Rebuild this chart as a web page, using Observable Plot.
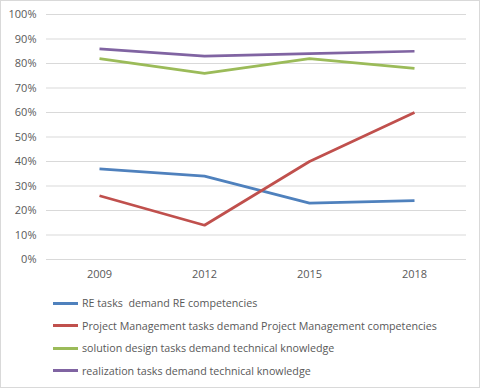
<!DOCTYPE html>
<html><head><meta charset="utf-8">
<script src="https://cdn.jsdelivr.net/npm/d3@7"></script>
<script src="https://cdn.jsdelivr.net/npm/@observablehq/plot@0.6"></script>
<style>
html,body{margin:0;padding:0;background:#fff;}
#wrap{position:relative;width:480px;height:388px;box-sizing:border-box;border:1px solid #d9d9d9;overflow:hidden;font-family:"Open Sans",sans-serif;}
#legend{position:absolute;left:52px;top:291px;}
.row{display:flex;align-items:center;height:22.5px;font-size:10.7px;color:#595959;letter-spacing:0px;}
.sw{width:25px;height:3px;margin-right:4px;}
</style></head>
<body><div id="wrap"><div id="chart"></div><div id="legend"></div></div>
<script>
const years = ["2009","2012","2015","2018"];
const seriesNames = [
  "RE tasks  demand RE competencies",
  "Project Management tasks demand Project Management competencies",
  "solution design tasks demand technical knowledge",
  "realization tasks demand technical knowledge"
];
const reValues = [0.37, 0.34, 0.23, 0.24];
const pmValues = [0.26, 0.14, 0.40, 0.60];
const sdValues = [0.82, 0.76, 0.82, 0.78];
const rzValues = [0.86, 0.83, 0.84, 0.85];
const colors = ["#4f81bd", "#c0504d", "#9bbb59", "#8064a2"];
const yTicks = [0,0.1,0.2,0.3,0.4,0.5,0.6,0.7,0.8,0.9,1.0];

const allValues = [reValues, pmValues, sdValues, rzValues];
const data = [];
seriesNames.forEach((s, i) => years.forEach((y, j) => data.push({series: s, year: y, value: allValues[i][j]})));

const plot = Plot.plot({
  width: 478, height: 289,
  marginTop: 13, marginBottom: 31, marginLeft: 45, marginRight: 13,
  style: {fontFamily: "'Open Sans', sans-serif", fontSize: "11px", color: "#595959", background: "#fff"},
  x: {type: "point", domain: years, padding: 0.5, label: null},
  y: {domain: [0, 1], label: null},
  color: {domain: seriesNames, range: colors},
  marks: [
    Plot.gridY(yTicks, {stroke: "#d9d9d9", strokeOpacity: 1, strokeWidth: 1}),
    Plot.axisY(yTicks, {tickSize: 0, tickPadding: 10, tickFormat: d3.format(".0%"), label: null, fill: "#595959", fontSize: 11}),
    Plot.axisX({tickSize: 0, tickPadding: 11, label: null, fill: "#595959", fontSize: 11}),
    Plot.line(data, {x: "year", y: "value", z: "series", stroke: "series", strokeWidth: 2.75, strokeLinejoin: "round", strokeLinecap: "butt"})
  ]
});
document.getElementById("chart").appendChild(plot);

const legend = document.getElementById("legend");
seriesNames.forEach((s, i) => {
  const r = document.createElement("div"); r.className = "row";
  const sw = document.createElement("div"); sw.className = "sw"; sw.style.background = colors[i];
  const t = document.createElement("span"); t.textContent = s; t.style.whiteSpace = "pre";
  r.appendChild(sw); r.appendChild(t); legend.appendChild(r);
});
</script></body></html>
